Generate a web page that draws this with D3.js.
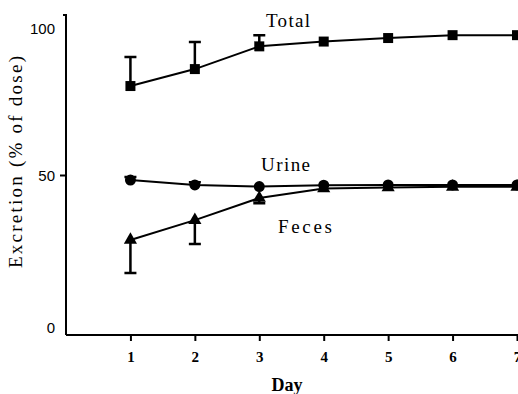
<!DOCTYPE html>
<html>
<head>
<meta charset="utf-8">
<script src="https://cdn.jsdelivr.net/npm/d3@7"></script>
<style>
  body { margin: 0; background: #fff; }
  svg { display: block; }
</style>
</head>
<body>
<div id="chart"></div>
<script>
// data
const days = [1, 2, 3, 4, 5, 6, 7];
const total = [77.8, 83.1, 90.2, 91.7, 92.8, 93.7, 93.7];
const totalErr = [9.1, 8.5, 3.5, 0, 0, 0, 0];
const urine = [48.4, 46.9, 46.4, 46.8, 46.9, 46.9, 46.9];
const urineErr = [1, 0.8, 0, 0, 0, 0, 0];
const feces = [29.7, 35.9, 42.8, 45.8, 46.1, 46.3, 46.3];
const fecesErr = [-10.3, -7.5, -1.6, 0, 0, 0, 0];
const yTicks = [0, 50, 100];

const SERIF = "'Liberation Serif', 'Times New Roman', serif";

function Chart() {
  const w = 518, h = 394;
  const svg = d3.select("#chart")
    .append("svg")
    .attr("width", w)
    .attr("height", h);

  // Scales
  const x = d3.scaleLinear().domain([0, 7]).range([66, 517]);
  const y = d3.scaleLinear().domain([0, 100]).range([335, 15]);

  // Axes
  const xAxis = d3.axisBottom(x).tickValues(days).tickSize(6).tickFormat(d3.format("d"));
  const gx = svg.append("g")
    .attr("transform", "translate(0," + y(0) + ")")
    .call(xAxis);
  gx.select(".domain").attr("d", "M" + x(0) + ",0H" + w).attr("stroke-width", 2);
  gx.selectAll(".tick line").attr("stroke-width", 2);
  gx.selectAll(".tick text")
    .attr("y", 16)
    .style("font-family", SERIF)
    .style("font-size", "15px")
    .style("font-weight", "bold");

  const yAxis = d3.axisLeft(y).tickValues(yTicks).tickSize(6);
  const gy = svg.append("g")
    .attr("transform", "translate(" + x(0) + ",0)")
    .call(yAxis);
  gy.select(".domain").attr("d", "M-3," + y(100) + "H0V" + y(0)).attr("stroke-width", 2);
  gy.selectAll(".tick line").attr("stroke-width", 2)
    .attr("x2", d => d === 50 ? -6 : 0);
  gy.selectAll(".tick text")
    .attr("x", -11)
    .attr("dy", d => d === 100 ? "1.2em" : d === 0 ? "-0.15em" : "0.35em")
    .style("font-family", "'Liberation Sans', Arial, sans-serif")
    .style("font-size", "15px");

  // Axis titles
  svg.append("text")
    .attr("x", 287)
    .attr("y", 391)
    .attr("text-anchor", "middle")
    .style("font-family", SERIF)
    .style("font-size", "18px")
    .style("font-weight", "bold")
    .text("Day");

  svg.append("text")
    .attr("transform", "translate(22,162) rotate(-90)")
    .attr("text-anchor", "middle")
    .style("font-family", SERIF)
    .style("font-size", "19px")
    .attr("textLength", 212)
    .attr("lengthAdjust", "spacing")
    .text("Excretion (% of dose)");

  const line = d3.line().x((d, i) => x(days[i])).y(d => y(d));

  const seriesList = [
    { name: "Total", values: total, err: totalErr, shape: d3.symbolSquare, size: 100 },
    { name: "Urine", values: urine, err: urineErr, shape: d3.symbolCircle, size: 95 },
    { name: "Feces", values: feces, err: fecesErr, shape: d3.symbolTriangle, size: 75 }
  ];

  seriesList.forEach(function (s) {
    const g = svg.append("g");

    // error bars
    g.selectAll("path.err")
      .data(s.values.map((v, i) => [days[i], v, s.err[i]]).filter(d => d[2] !== 0))
      .enter()
      .append("path")
      .attr("fill", "none")
      .attr("stroke", "#000")
      .attr("stroke-width", 2.5)
      .attr("d", d => {
        const x0 = x(d[0]), y0 = y(d[1]), y1 = y(d[1] + d[2]);
        return "M" + x0 + "," + y0 + "V" + y1 + "M" + (x0 - 6) + "," + y1 + "H" + (x0 + 6);
      });

    g.append("path")
      .datum(s.values)
      .attr("fill", "none")
      .attr("stroke", "#000")
      .attr("stroke-width", 2)
      .attr("d", line);

    g.selectAll("path.pt")
      .data(s.values)
      .enter()
      .append("path")
      .attr("transform", (d, i) => "translate(" + x(days[i]) + "," + y(d) + ")")
      .attr("d", d3.symbol().type(s.shape).size(s.size))
      .attr("fill", "#000");
  });

  // series labels
  const labels = [
    { text: "Total", x: 266, y: 27, len: 44 },
    { text: "Urine", x: 261, y: 171, len: 49 },
    { text: "Feces", x: 278, y: 233, len: 54 }
  ];
  svg.selectAll("text.lbl")
    .data(labels)
    .enter()
    .append("text")
    .attr("x", d => d.x)
    .attr("y", d => d.y)
    .attr("textLength", d => d.len)
    .attr("lengthAdjust", "spacing")
    .style("font-family", SERIF)
    .style("font-size", "19px")
    .text(d => d.text);
}

window.onload = function () {
  Chart();
};
</script>
</body>
</html>
